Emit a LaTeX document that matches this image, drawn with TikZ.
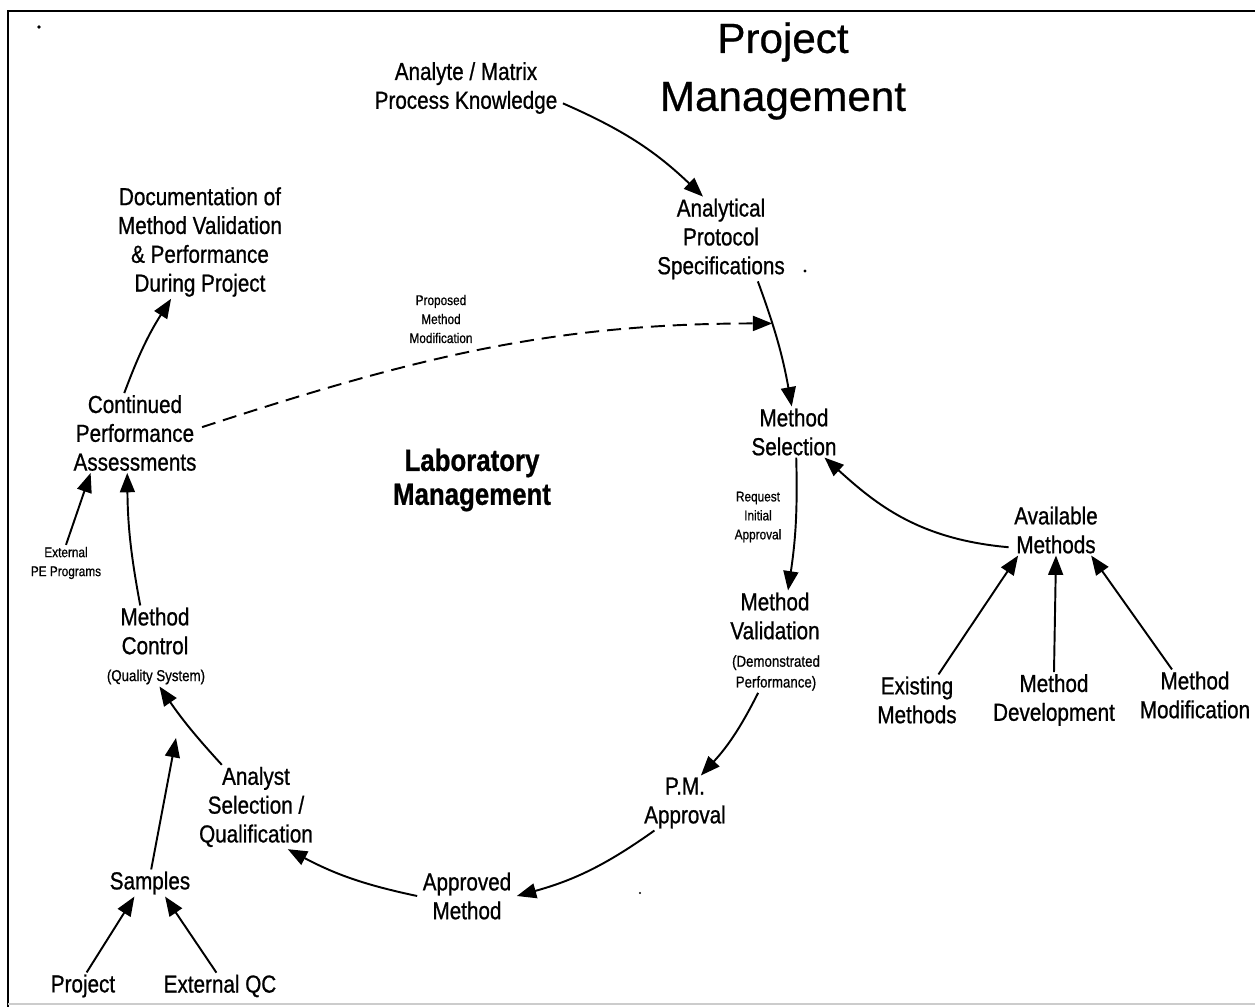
\documentclass[tikz,border=0pt]{standalone}
\usepackage{fontspec}
\setmainfont{Liberation Sans}[FakeStretch=0.84, FakeBold=0.8]
\newfontfamily\headfont{Liberation Sans}[FakeBold=0.6]
\usetikzlibrary{arrows.meta}

\begin{document}
\begin{tikzpicture}[
    x=0.02cm, y=-0.02cm,
    >={Triangle[length=11pt, width=8.5pt]}, % Filled triangle heads
    % Styles
    box/.style={ % Steps of the cycle
        align=center,
        inner xsep=3pt,
        inner ysep=1pt,
        font=\fontsize{14}{16.4}\selectfont
    },
    note/.style={ % Small labels on arrows
        box,
        font=\fontsize{8}{10.8}\selectfont
    },
    remark/.style={ % Bracketed remarks
        box,
        font=\fontsize{9}{11.8}\selectfont
    },
    head/.style={ % Title
        align=center,
        font=\headfont\fontsize{24}{33}\selectfont
    },
    lab/.style={ % Inner title
        align=center,
        font=\bfseries\fontsize{17.5}{19.3}\selectfont
    },
    arrow/.style={
        ->,
        line width=1.1pt
    },
    propose/.style={ % Dashed feedback arrow
        arrow,
        dash pattern=on 8pt off 4.5pt
    },
    frame/.style={
        line width=1.6pt
    }
]

    % Page and frame
    \useasboundingbox (0,0) rectangle (1255,1007);
    \draw[frame] (1255,11) -- (8,11) -- (8,1007);
    \draw[gray!40, line width=1pt] (8,1004) -- (1255,1004);
    \fill (39,27) circle (1pt);
    \fill (805,271) circle (0.9pt);
    \fill (640,893) circle (0.7pt);

    % Titles
    \node[head] (title) at (783,71) {Project\\Management};
    \node[lab] (lab) at (472,480) {Laboratory\\Management};

    % Steps of the cycle
    \node[box] (analyte) at (466,88) {Analyte / Matrix\\Process Knowledge};
    \node[box] (protocol) at (721,239) {Analytical\\Protocol\\Specifications};
    \node[box] (selection) at (794,432) {Method\\Selection};
    \node[box] (validation) at (775,616) {Method\\Validation};
    \node[remark] (demo) at (776,673) {(Demonstrated\\Performance)};
    \node[box] (pm) at (685,803) {P.M.\\Approval};
    \node[box] (approved) at (467,896) {Approved\\Method};
    \node[box] (analyst) at (256,807) {Analyst\\Selection /\\Qualification};
    \node[box] (control) at (155,631) {Method\\Control};
    \node[remark] (quality) at (156,677) {(Quality System)};
    \node[box] (continued) at (135,433) {Continued\\Performance\\Assessments};
    \node[box] (docu) at (200,242) {Documentation of\\Method Validation\\\& Performance\\During Project};

    % Inputs
    \node[box] (samples) at (150,883) {Samples};
    \node[box] (project) at (83,986) {Project};
    \node[box] (extqc) at (220,986) {External QC};
    \node[box] (available) at (1056,530) {Available\\Methods};
    \node[box] (existing) at (917,700) {Existing\\Methods};
    \node[box] (develop) at (1054,700) {Method\\Development};
    \node[box] (modif) at (1195,695) {Method\\Modification};

    % Small labels
    \node[note] (proposed) at (441,319) {Proposed\\Method\\Modification};
    \node[note] (request) at (758,517) {Request\\Initial\\Approval};
    \node[note] (extpe) at (66,563) {External\\PE Programs};
    \coordinate (qsin) at (176,738);

    % Arrows round the cycle
    \draw[arrow] (analyte.-9) to[bend left=10] (protocol.113);
    \draw[arrow] (protocol.-49) to[bend left=5] coordinate[pos=0.33] (mod) (selection.95);
    \draw[arrow] (selection.-85) to[bend left=5] (validation.63);
    \draw[arrow] (demo.-132) to[bend left=8] (pm.60);
    \draw[arrow] (pm.-138) to[bend left=10] (approved.east);
    \draw[arrow] (approved.west) to[bend left=8] (analyst.-53);
    \draw[arrow] (analyst.129) to[bend left=4] (quality.-70);
    \draw[arrow] (control.120) to[bend left=5] (continued.-101);
    \draw[arrow] (continued.105) to[bend left=6] (docu.-117);

    % Arrows from the inputs
    \draw[arrow] (available.200) .. controls +(-90,-8) and +(52,47) .. (selection.-40);
    \draw[arrow] (existing.50) -- (available.-146);
    \draw[arrow] (develop.north) -- (available.south);
    \draw[arrow] (modif.132) -- (available.-36);
    \draw[arrow] (samples.85) -- (qsin);
    \draw[arrow] (project.75) -- (samples.-139);
    \draw[arrow] (extqc.105) -- (samples.-42);
    \draw[arrow] (extpe.north) -- (continued.-138);

    % Feedback
    \draw[propose] (continued.5) .. controls +(211,-69) and +(-222,0) .. (mod);
\end{tikzpicture}
\end{document}
